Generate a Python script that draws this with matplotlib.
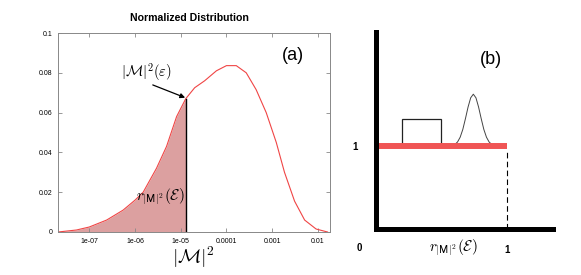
import numpy as np
import matplotlib
matplotlib.use("Agg")
import matplotlib.pyplot as plt
from matplotlib.patches import Rectangle

plt.rcParams['font.family'] = ['Liberation Sans', 'DejaVu Sans']
plt.rcParams['mathtext.fontset'] = 'cm'

# panel (a): normalized distribution of |M|^2
m2 = [2.09e-8, 5.25e-8, 1e-7, 2.4e-7, 5.5e-7, 1e-6, 1.51e-6, 2.95e-6, 4.9e-6,
      8.13e-6, 1.29e-5, 2.02e-5, 3.34e-5, 6.03e-5, 1e-4, 1.64e-4, 2.71e-4,
      4.47e-4, 7.41e-4, 1.23e-3, 1.86e-3, 3.09e-3, 5.13e-3, 9.12e-3, 1.62e-2]
density = [0, 0.001, 0.0025, 0.006, 0.011, 0.016, 0.02, 0.032, 0.043,
           0.058, 0.067, 0.0725, 0.076, 0.081, 0.0836, 0.0836, 0.080,
           0.0715, 0.060, 0.045, 0.030, 0.0155, 0.006, 0.0015, 0]
cut_x = 1.29e-5
cut_y = 0.067
xticks_a = [1e-7, 1e-6, 1e-5, 1e-4, 1e-3, 1e-2]
xticklabels_a = ['1e-07', '1e-06', '1e-05', '0.0001', '0.001', '0.01']
yticks_a = [0, 0.02, 0.04, 0.06, 0.08, 0.1]
yticklabels_a = ['0', '0.02', '0.04', '0.06', '0.08', '0.1']

# panel (b): schematic
flat_x = [0, 1]
flat_y = [1, 1]
box = (0.2, 1.0, 0.3, 0.32)   # x, y, width, height
bump_x = [0.584, 0.604, 0.624, 0.644, 0.664, 0.684, 0.704, 0.724, 0.744,
          0.764, 0.784, 0.804, 0.824, 0.844, 0.864, 0.884, 0.904]
bump_y = [1.0, 1.019, 1.048, 1.105, 1.198, 1.327, 1.466, 1.577, 1.62,
          1.577, 1.466, 1.327, 1.198, 1.105, 1.048, 1.019, 1.0]

fig = plt.figure(figsize=(5.81, 2.75), dpi=100)

# ---- (a)
ax = fig.add_axes([0.0998, 0.1564, 0.468, 0.7236])
m2 = np.array(m2)
density = np.array(density)
ax.fill_between(m2, 0, density, where=m2 <= cut_x, color='#dca0a0', lw=0)
ax.plot(m2, density, color='#f04545', lw=0.8)
ax.plot([cut_x, cut_x], [0, cut_y], color='black', lw=1.0)
ax.set_xscale('log')
ax.set_xlim(2.07e-8, 1.83e-2)
ax.set_ylim(0, 0.1)
ax.set_xticks(xticks_a)
ax.set_xticklabels(xticklabels_a)
ax.set_yticks(yticks_a)
ax.set_yticklabels(yticklabels_a)
ax.minorticks_off()
ax.tick_params(direction='in', length=3, width=0.6, color='#888888',
               labelsize=5, top=True, right=True, pad=4)
for s in ax.spines.values():
    s.set_color('#888888')
    s.set_linewidth(0.7)
ax.set_xlabel(r'$|\mathcal{M}|^2$', fontsize=14, labelpad=0)
fig.text(189/581, 1-18/275, 'Normalized Distribution', fontsize=7.6,
         fontweight='bold', ha='center', va='center')
ax.text(0.865, 0.885, '(a)', transform=ax.transAxes, fontsize=13,
        ha='center', va='center')
ax.text(1.8e-6, 0.0805, r'$|\mathcal{M}|^2(\varepsilon)$', fontsize=10.5,
        ha='center', va='center')
ax.annotate('', xy=(cut_x * 0.97, cut_y + 0.0005), xytext=(2.45e-6, 0.0739),
            arrowprops=dict(arrowstyle='-|>', color='black', lw=0.9,
                            mutation_scale=7, shrinkA=0, shrinkB=0))
ax.text(1.2e-5, 0.0176, r'$r_{\mathsf{|M|}^2}(\mathcal{E})$', fontsize=11,
        ha='right', va='center')

# ---- (b)
bx = fig.add_axes([0.6463, 0.1655, 0.3055, 0.7182])
bx.set_xlim(0, 1.35)
bx.set_ylim(0, 2.365)
bx.add_patch(Rectangle(box[:2], box[2], box[3], fill=False,
                       edgecolor='#222222', lw=0.9, zorder=1))
bx.plot(bump_x, bump_y, color='#444444', lw=0.7, zorder=1)
bx.plot(flat_x, flat_y, color='#f05555', lw=4.3, solid_capstyle='butt', zorder=2)
bx.plot([1, 1], [0, 0.96], color='black', lw=0.8, ls=(0, (5, 3)), zorder=1)
for side in ['top', 'right']:
    bx.spines[side].set_visible(False)
for side in ['left', 'bottom']:
    bx.spines[side].set_linewidth(3.6)
    bx.spines[side].set_capstyle('projecting')
bx.set_xticks([])
bx.set_yticks([1])
bx.set_yticklabels(['1'])
bx.tick_params(axis='y', direction='in', length=11, width=1.2,
               labelsize=7, pad=13)
for t in bx.get_yticklabels():
    t.set_fontweight('bold')
bx.text(-16.5/131.5, -18.5/83.5, '0', fontsize=7, fontweight='bold',
        ha='center', va='center', clip_on=False)
bx.text(1.0, -20.5/83.5, '1', fontsize=7, fontweight='bold',
        ha='center', va='center', clip_on=False)
bx.text(77.5/131.5, -18.5/83.5, r'$r_{\mathsf{|M|}^2}(\mathcal{E})$',
        fontsize=11, ha='center', va='center', clip_on=False)
bx.text(0.88, 2.03, '(b)', fontsize=13, ha='center', va='center')

fig.savefig('out.png', dpi=100)
